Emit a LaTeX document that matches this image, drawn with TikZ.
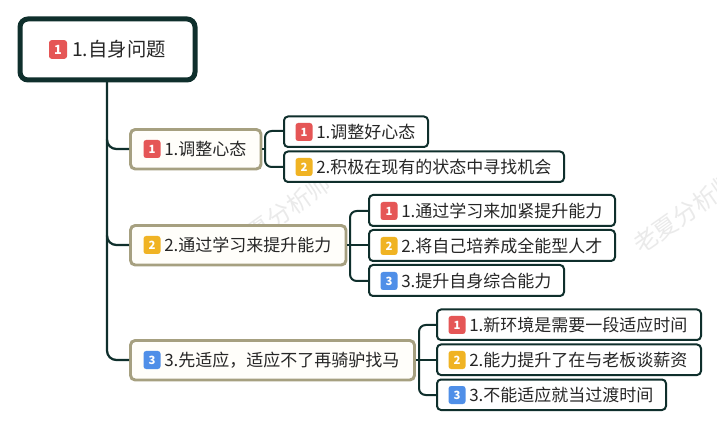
\documentclass[tikz,border=0pt]{standalone}
\usepackage{fontspec}
\setmainfont{Noto Sans CJK SC}
\definecolor{dk}{HTML}{0F2F2C}
\definecolor{tan}{HTML}{A6A080}
\definecolor{bred}{HTML}{E55656}
\definecolor{byel}{HTML}{F0B323}
\definecolor{bblu}{HTML}{4F8FE8}
\definecolor{wm}{HTML}{EAEAEA}
\definecolor{cream}{HTML}{FFFEFA}
\tikzset{
  x=0.75pt,y=-0.75pt,
  rootbox/.style={draw=dk,line width=3.75pt,rounded corners=6pt,fill=white},
  midbox/.style={draw=tan,line width=2.2pt,rounded corners=3.5pt,fill=cream},
  leafbox/.style={draw=dk,line width=1.5pt,rounded corners=3pt,fill=white},
  conn/.style={draw=dk,line width=1.5pt,rounded corners=5pt},
  trunk/.style={draw=dk,line width=1.7pt,rounded corners=7pt},
  badge/.style={rounded corners=2pt,inner sep=0pt,minimum width=12.75pt,minimum height=13.5pt,text=white,font=\bfseries\fontsize{8.5}{9}\selectfont},
  lab/.style={inner sep=0pt,anchor=west,text=black!85,font=\fontsize{12.75}{14}\selectfont},
  rootlab/.style={inner sep=0pt,anchor=west,text=black!85,font=\fontsize{14.5}{16}\selectfont},
  wmark/.style={text=wm,rotate=35,inner sep=0pt,font=\fontsize{18}{19}\selectfont},
}
\begin{document}
\begin{tikzpicture}
\useasboundingbox (0,0) rectangle (717,427);
\fill[white] (0,0) rectangle (717,427);
\begin{scope}
\clip (0,0) rectangle (717,427);
\node[wmark] (w1) at (279,215) {老夏分析师};
\node[wmark] (w2) at (685,213) {老夏分析师};
\end{scope}

% boxes
\draw[rootbox] (20,19) rectangle (195,80);
\coordinate (rb) at (107,80);
\draw[midbox] (130.5,129.5) rectangle (261,169);
\draw[midbox] (130.5,225.5) rectangle (346,265);
\draw[midbox] (130.5,340.5) rectangle (414.5,380);
\draw[leafbox] (284,116.5) rectangle (428,147);
\draw[leafbox] (284,151.5) rectangle (564,182);
\draw[leafbox] (369,195) rectangle (615,226);
\draw[leafbox] (369,230) rectangle (615,261);
\draw[leafbox] (369,265) rectangle (564,296);
\draw[leafbox] (437,309.5) rectangle (701,340);
\draw[leafbox] (437,344.5) rectangle (701,375);
\draw[leafbox] (437,379.5) rectangle (666,410);

% anchors
\coordinate (m1) at (129,149);
\coordinate (m2) at (129,245);
\coordinate (m3) at (129,360);
\coordinate (m1r) at (262,149);
\coordinate (m2r) at (347,245);
\coordinate (m3r) at (416,360);
\coordinate (l11) at (284,131);
\coordinate (l12) at (284,167);
\coordinate (l21) at (369,211);
\coordinate (l22) at (369,245);
\coordinate (l23) at (369,281);
\coordinate (l31) at (437,325);
\coordinate (l32) at (437,360);
\coordinate (l33) at (437,395);

% connectors
\draw[trunk] (rb) -- (107,360) -- (m3);
\draw[trunk] (107,140) |- (m1);
\draw[trunk] (107,236) |- (m2);
\draw[conn] (m1r) -- (265,149);
\draw[conn] (l11) -- (265,131) -- (265,167) -- (l12);
\draw[conn] (m2r) -- (l22);
\draw[conn] (l21) -- (350,211) -- (350,281) -- (l23);
\draw[conn] (m3r) -- (l32);
\draw[conn] (l31) -- (419,325) -- (419,395) -- (l33);

% badges and labels
\node[badge,fill=bred,minimum width=13.5pt,minimum height=14pt,font=\bfseries\fontsize{9.5}{10}\selectfont] (b0) at (58,49.5) {1};
\node[rootlab] (t0) at (72,49.5) {1.自身问题};

\node[badge,fill=bred] (b1) at (152,149) {1};
\node[lab] (t1) at (164,149) {1.调整心态};
\node[badge,fill=byel] (b2) at (152,245) {2};
\node[lab] (t2) at (164,245) {2.通过学习来提升能力};
\node[badge,fill=bblu] (b3) at (152,360) {3};
\node[lab] (t3) at (164,360) {3.先适应，适应不了再骑驴找马};

\node[badge,fill=bred] (b11) at (304,132) {1};
\node[lab] (t11) at (316,132) {1.调整好心态};
\node[badge,fill=byel] (b12) at (304,167) {2};
\node[lab] (t12) at (316,167) {2.积极在现有的状态中寻找机会};

\node[badge,fill=bred] (b21) at (389,211) {1};
\node[lab] (t21) at (401,211) {1.通过学习来加紧提升能力};
\node[badge,fill=byel] (b22) at (389,246) {2};
\node[lab] (t22) at (401,246) {2.将自己培养成全能型人才};
\node[badge,fill=bblu] (b23) at (389,281) {3};
\node[lab] (t23) at (401,281) {3.提升自身综合能力};

\node[badge,fill=bred] (b31) at (457,325) {1};
\node[lab] (t31) at (469,325) {1.新环境是需要一段适应时间};
\node[badge,fill=byel] (b32) at (457,360) {2};
\node[lab] (t32) at (469,360) {2.能力提升了在与老板谈薪资};
\node[badge,fill=bblu] (b33) at (457,395) {3};
\node[lab] (t33) at (469,395) {3.不能适应就当过渡时间};
\end{tikzpicture}
\end{document}
